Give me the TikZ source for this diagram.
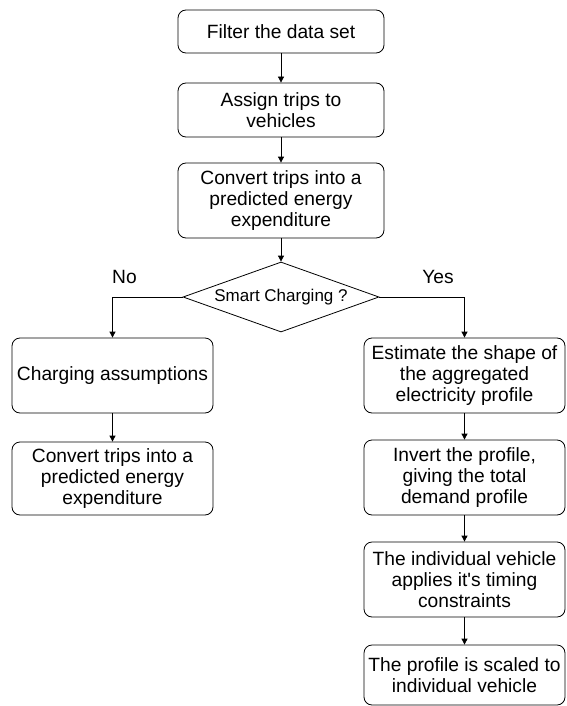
\documentclass[tikz,border=0pt]{standalone}
\usepackage{fontspec}
\setmainfont{Liberation Sans}
\usetikzlibrary{arrows.meta,shapes.geometric}

\begin{document}
\begin{tikzpicture}[x=1pt, y=-1pt,
    every node/.style={font=\fontsize{19.2}{21.2}\selectfont},
    stepbox/.style={draw, rounded corners=8pt, align=center, inner sep=0pt,
      minimum width=201pt, minimum height=75pt, line width=0.8pt},
    arr/.style={-{Triangle[length=6pt,width=6pt]}, line width=0.8pt}]
  \useasboundingbox (0,0) rectangle (566,706);
  \node[stepbox, minimum width=206pt, minimum height=43pt] (filter) at (281,31.5) {Filter the data set};
  \node[stepbox, minimum width=206pt, minimum height=54pt] (assign) at (281,110) {Assign trips to\\vehicles};
  \node[stepbox, minimum width=206pt] (convert) at (281,200.5) {Convert trips into a\\predicted energy\\expenditure};
  \node[draw, diamond, aspect=2.8, minimum width=196pt, minimum height=70pt, inner sep=0pt,
    line width=0.8pt, font=\fontsize{17}{20}\selectfont] (smart) at (281,297) {Smart Charging ?};
  \node[anchor=base] (no) at (124.5,283) {No};
  \node[anchor=base] (yes) at (438,283) {Yes};
  \node[stepbox] (assume) at (112.5,375.5) {Charging assumptions};
  \node[stepbox, minimum height=73pt] (convertb) at (112.5,478.5) {Convert trips into a\\predicted energy\\expenditure};
  \node[stepbox] (estimate) at (464.5,375.5) {Estimate the shape of\\the aggregated\\electricity profile};
  \node[stepbox] (invert) at (464.5,477.5) {Invert the profile,\\giving the total\\demand profile};
  \node[stepbox] (timing) at (464.5,579.5) {The individual vehicle\\applies it\textquotesingle s timing\\constraints};
  \node[stepbox, minimum height=60pt] (scaled) at (464.5,675) {The profile is scaled to\\individual vehicle};
  \draw[arr] (filter.south) -- (assign.north);
  \draw[arr] (assign.south) -- (convert.north);
  \draw[arr] (convert.south) -- (smart.north);
  \draw[arr] (smart.west) -| (assume.north);
  \draw[arr] (smart.east) -| (estimate.north);
  \draw[arr] (assume.south) -- (convertb.north);
  \draw[arr] (estimate.south) -- (invert.north);
  \draw[arr] (invert.south) -- (timing.north);
  \draw[arr] (timing.south) -- (scaled.north);
\end{tikzpicture}
\end{document}
